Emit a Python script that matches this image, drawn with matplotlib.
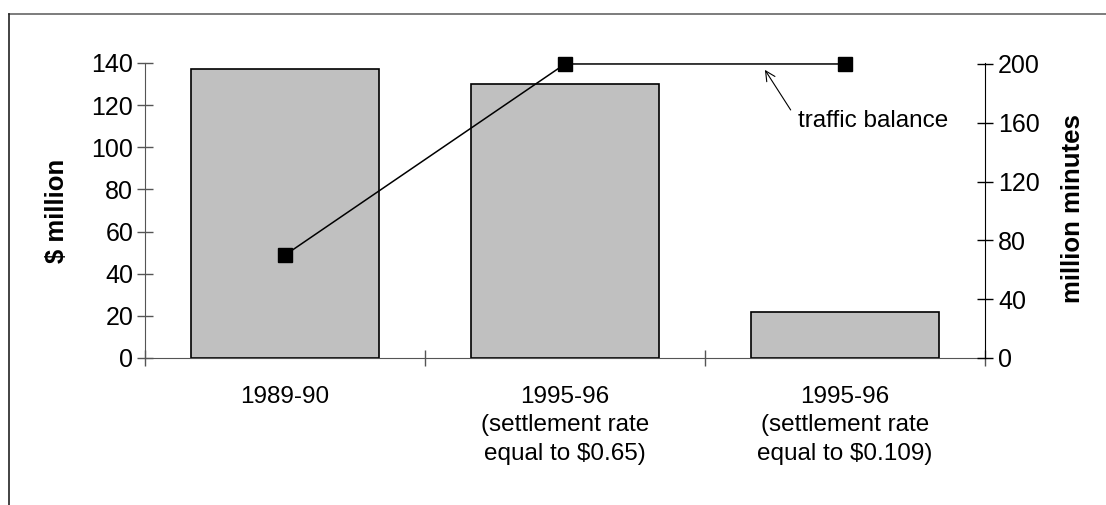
import matplotlib.pyplot as plt
from matplotlib.lines import Line2D

# payments (left axis) and traffic balance (right axis)
categories = ['1989-90',
              '1995-96\n(settlement rate\nequal to $0.65)',
              '1995-96\n(settlement rate\nequal to $0.109)']
payments = [137, 130, 22]
traffic_balance = [70, 200, 200]

plt.rcParams['font.family'] = ['Liberation Sans', 'DejaVu Sans']
fs_tick = 18
fs_text = 17.5
fs_label = 18.5

fig = plt.figure(figsize=(11.06, 5.05), dpi=100)
ax = fig.add_axes([0.1311, 0.2911, 0.7595, 0.5842])

x = list(range(len(categories)))
ax.bar(x, payments, width=0.67, color='#c0c0c0', edgecolor='black', linewidth=1.2, zorder=2)
ax.set_xlim(-0.5, len(categories) - 0.5)
ax.set_ylim(0, 140)
ax.set_yticks(range(0, 141, 20))
ax.tick_params(axis='y', direction='inout', length=11, width=1, colors='#555555',
               labelcolor='black', labelsize=fs_tick, pad=3)
ax.set_xticks([i - 0.5 for i in range(len(categories) + 1)])
ax.set_xticklabels([])
ax.tick_params(axis='x', direction='inout', length=11, width=1, colors='#555555')
for i, lab in enumerate(categories):
    ax.text(i, -0.095, lab, transform=ax.get_xaxis_transform(), ha='center', va='top',
            fontsize=fs_text, linespacing=1.38)
for s in ['top', 'right']:
    ax.spines[s].set_visible(False)
ax.spines['left'].set_color('#555555')
ax.spines['bottom'].set_color('#555555')
ax.text(-0.105, 0.5, '$ million', transform=ax.transAxes, rotation=90,
        ha='center', va='center', fontsize=fs_label, fontweight='bold')

ax2 = ax.twinx()
ax2.plot(x, traffic_balance, color='black', linewidth=1.1, marker='s', markersize=9.5,
         zorder=3, clip_on=False)
ax2.set_ylim(0, 200 * 295 / 294)
ax2.set_yticks(range(0, 201, 40))
ax2.tick_params(axis='y', direction='inout', length=11, width=1, labelsize=fs_tick, pad=4)
for s in ['top', 'left', 'bottom']:
    ax2.spines[s].set_visible(False)
ax2.text(1.105, 0.505, 'million minutes', transform=ax.transAxes, rotation=90,
         ha='center', va='center', fontsize=fs_label, fontweight='bold')

ax2.annotate('traffic balance', xy=(1.714, 196), xytext=(1.832, 161), fontsize=fs_text,
             ha='left', va='center',
             arrowprops=dict(arrowstyle='->', color='black', lw=0.8,
                             shrinkA=6, shrinkB=0, relpos=(0, 0.5)))

# frame around the chart area
fig.add_artist(Line2D([9 / 1106, 1], [1 - 14 / 505, 1 - 14 / 505], color='#666666', lw=1.2))
fig.add_artist(Line2D([9 / 1106, 9 / 1106], [0, 1 - 14 / 505], color='#222222', lw=1.2))

fig.savefig('out.png', dpi=100)
